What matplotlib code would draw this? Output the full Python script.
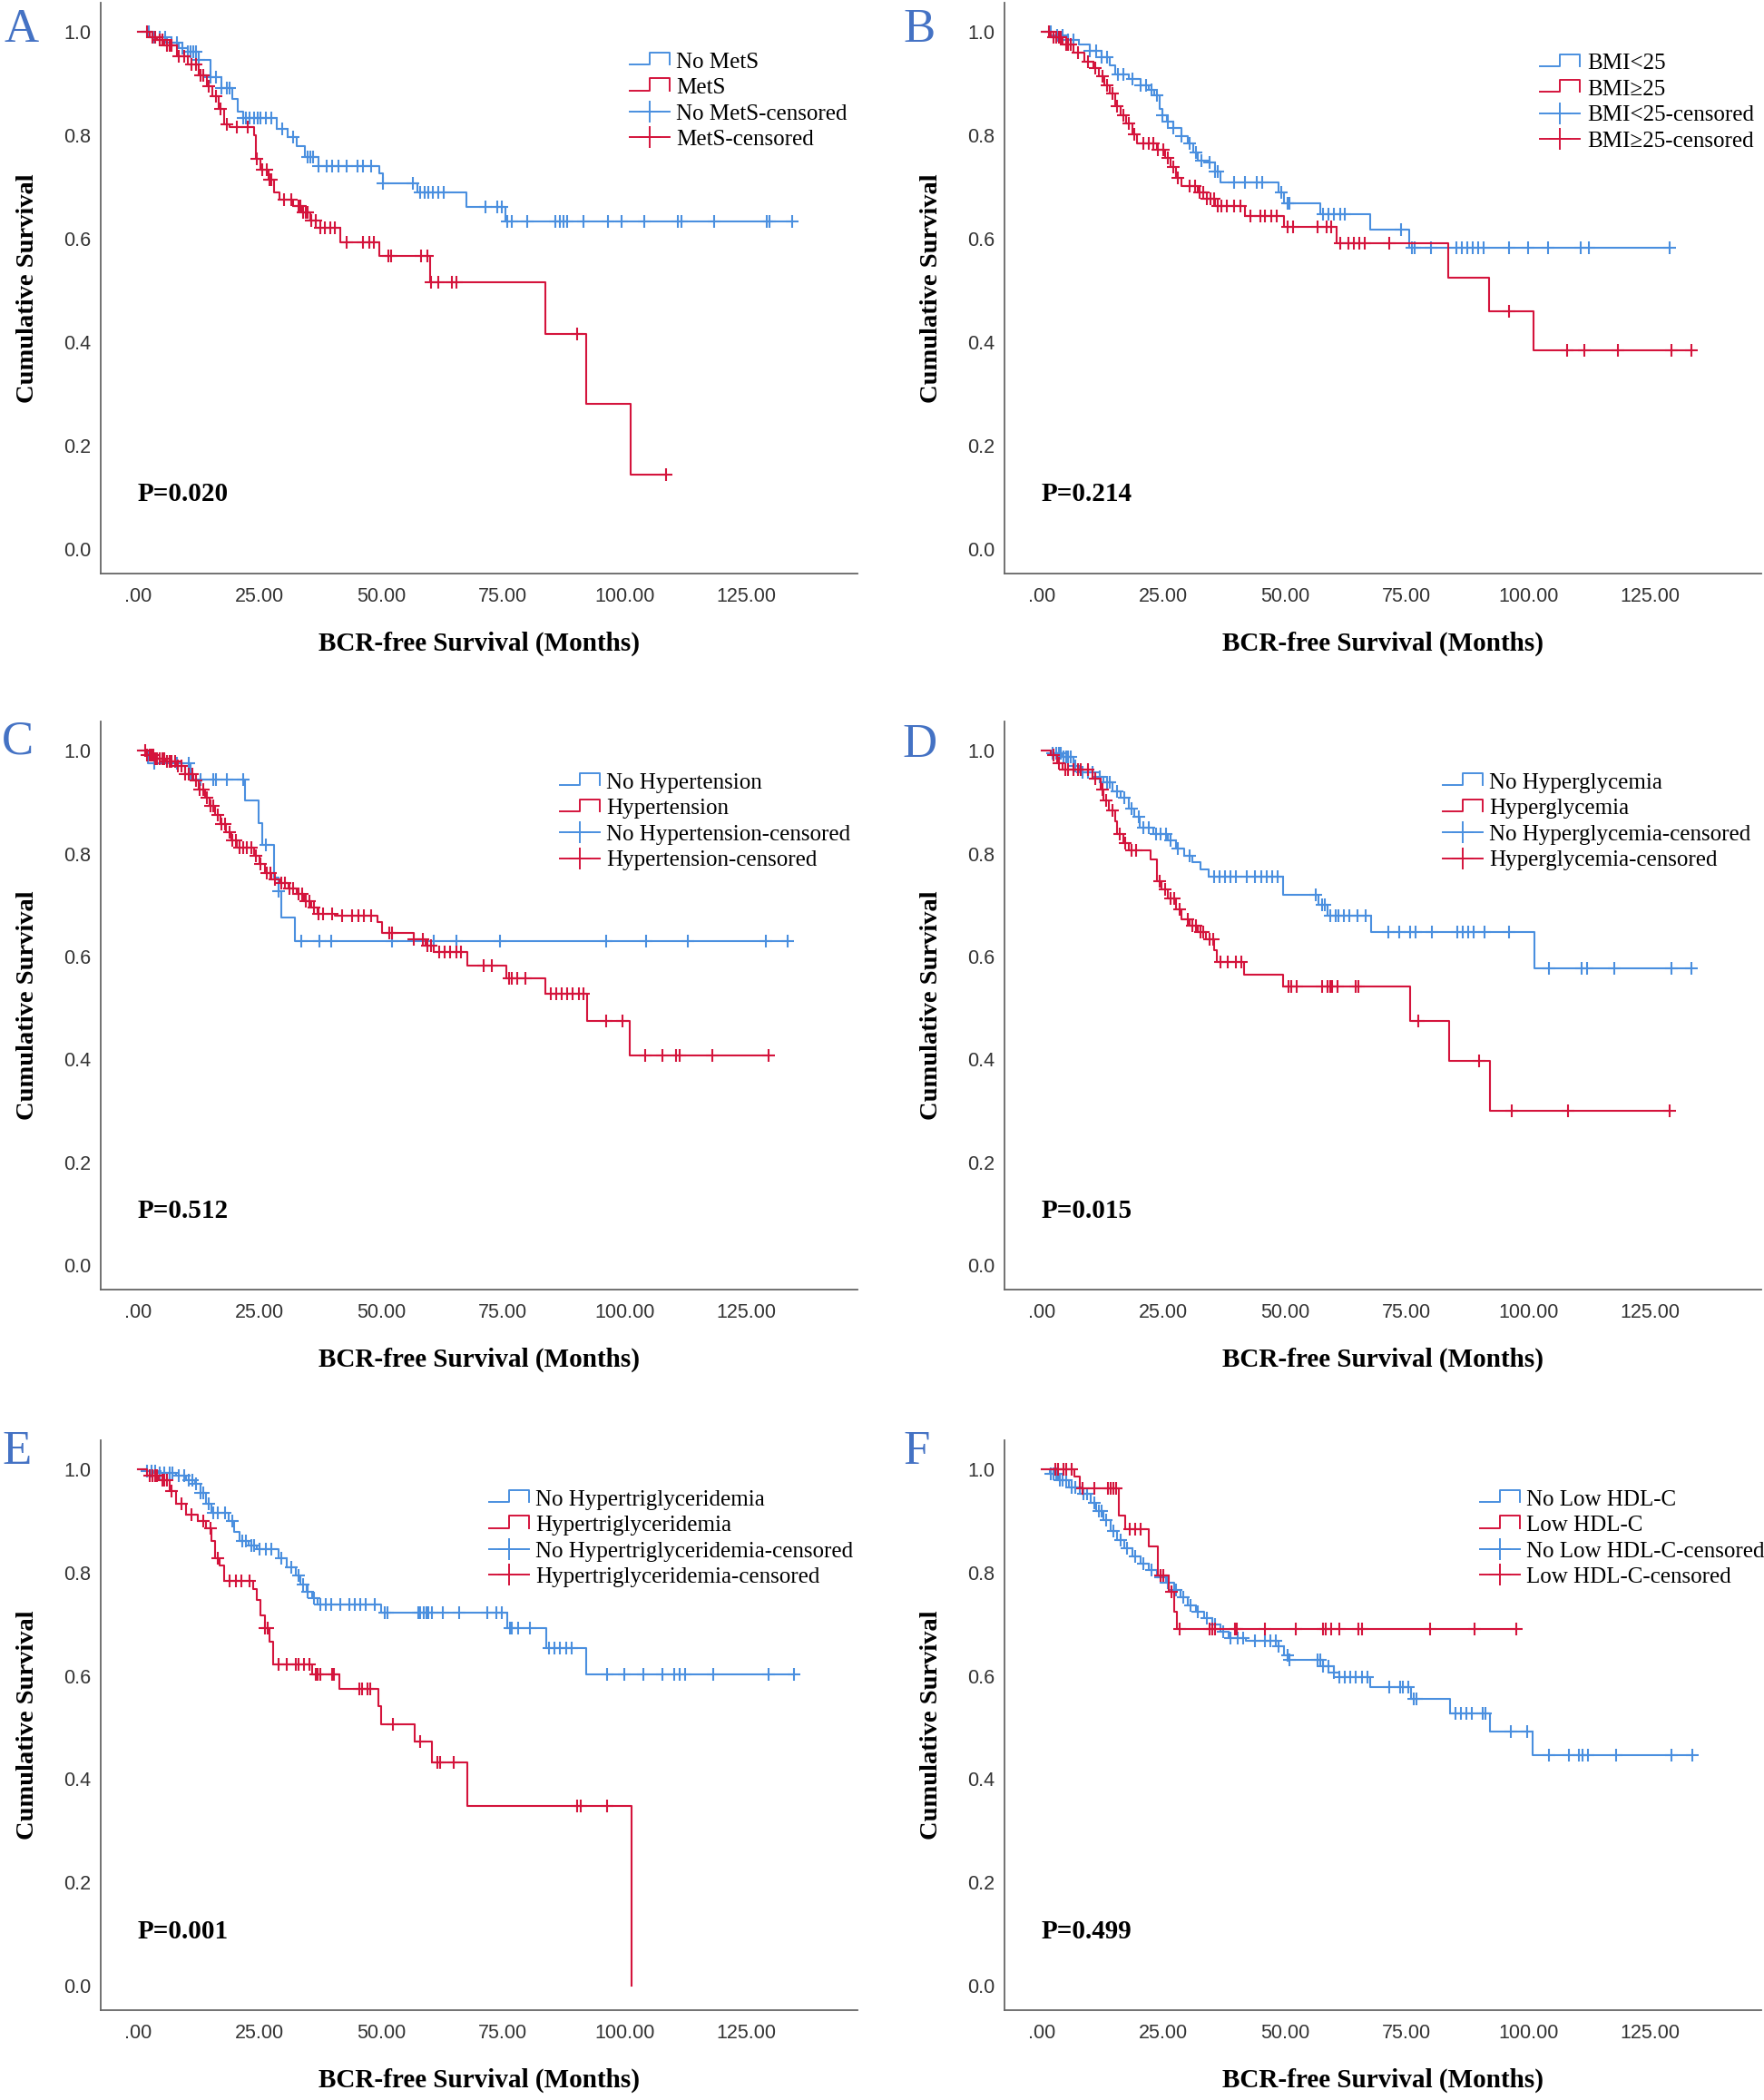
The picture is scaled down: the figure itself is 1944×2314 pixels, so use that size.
import numpy as np
import matplotlib.pyplot as plt
from matplotlib.legend_handler import HandlerBase
from matplotlib.lines import Line2D
from matplotlib.font_manager import FontProperties

# ---- values (months / cumulative survival) ----
x_ticks = [0, 25, 50, 75, 100, 125]
x_ticklabels = ['.00', '25.00', '50.00', '75.00', '100.00', '125.00']
y_ticks = [0.0, 0.2, 0.4, 0.6, 0.8, 1.0]
y_ticklabels = ['0.0', '0.2', '0.4', '0.6', '0.8', '1.0']
panel_letters = ['A', 'B', 'C', 'D', 'E', 'F']
p_values = ['P=0.020', 'P=0.214', 'P=0.512', 'P=0.015', 'P=0.001', 'P=0.499']

# A - MetS
a_labels = ['No MetS', 'MetS']
a_blue_t = [3, 6, 8.5, 10.3, 12.6, 14.9, 17.2, 19.4, 20.6, 21.7, 28.6, 30.9, 32.6, 34.3, 37.2,
            49.7, 50.3, 57.4, 67.5, 75.5]
a_blue_s = [0.99, 0.98, 0.97, 0.963, 0.946, 0.913, 0.892, 0.871, 0.846, 0.834, 0.813, 0.797, 0.78,
            0.759, 0.741, 0.726, 0.707, 0.689, 0.662, 0.633]
a_blue_c = [2.3, 3.4, 4.6, 5.7, 6.9, 8.0, 9.1, 10.3, 10.9, 11.4, 12.0, 12.6, 14.9, 16.0, 17.2, 18.3,
            18.9, 21.7, 22.3, 22.9, 24.0, 24.6, 25.2, 26.3, 27.4, 29.7, 32.0, 34.9, 35.4, 36.0, 37.2,
            38.9, 40.0, 41.2, 42.9, 45.2, 46.3, 48.0, 50.3, 56.6, 58.0, 58.9, 59.7, 60.6, 61.8, 62.9,
            71.5, 73.8, 74.9, 76.0, 76.8, 80.0, 85.8, 86.7, 87.5, 88.3, 91.5, 96.6, 99.5, 104.1,
            110.9, 111.8, 118.4, 129.2, 129.8, 134.4]
a_red_t = [2.5, 4, 5.5, 8, 10.3, 12.6, 14.3, 15.4, 16.6, 17.7, 18.9, 24.0, 24.2, 25.2, 26.9, 28.0,
           29.2, 32.0, 33.7, 35.4, 36.6, 41.7, 49.7, 60.0, 83.8, 92.1, 101.2]
a_red_s = [0.99, 0.985, 0.975, 0.954, 0.938, 0.917, 0.896, 0.876, 0.851, 0.822, 0.816, 0.80, 0.755,
           0.734, 0.714, 0.689, 0.676, 0.664, 0.651, 0.635, 0.622, 0.593, 0.566, 0.516, 0.415,
           0.28, 0.144]
a_red_c = [2, 3, 3.5, 4.5, 5, 6, 6.5, 7, 8.5, 9.5, 11, 12, 13, 13.5, 14.5, 16, 17, 18.3, 20.3, 22.6,
           24.5, 25.5, 26.5, 27, 27.5, 30, 31.5, 33, 33.5, 34, 34.5, 35, 35.7, 36.5, 37.5, 38.5,
           39.5, 40.5, 42.9, 46.3, 47.5, 48.6, 51.5, 52, 58.3, 59.5, 60.3, 61.8, 64.6, 65.4, 90.3,
           108.6]

# B - BMI
b_labels = ['BMI<25', 'BMI\u226525']
b_blue_t = [2.5, 5.5, 7.7, 10, 12.3, 14, 15.1, 18, 20.3, 22, 23.1, 24.3, 24.8, 25.7, 27.1, 28.8,
            30, 31.1, 32.2, 34.5, 35.6, 36.8, 48.7, 49.9, 57.3, 67.5, 75.5]
b_blue_s = [0.993, 0.985, 0.977, 0.964, 0.952, 0.935, 0.918, 0.91, 0.898, 0.889, 0.877, 0.852,
            0.839, 0.827, 0.814, 0.798, 0.785, 0.768, 0.752, 0.748, 0.731, 0.71, 0.689, 0.668,
            0.648, 0.618, 0.583]
b_blue_c = [2, 3.2, 4.3, 5.5, 6.6, 10, 11.2, 12.3, 13.4, 15.7, 16.9, 18.6, 20.3, 21.4, 22.6, 23.7,
            24.8, 26, 27.1, 28.8, 30.5, 31.7, 32.8, 34.5, 35.6, 36.2, 39.6, 41.9, 44.2, 45.3, 49.3,
            50.5, 51, 57.9, 59, 60.1, 61.3, 62.4, 73.8, 76.1, 76.7, 80.1, 85.2, 86.3, 87.5, 88.6,
            89.7, 90.9, 96, 100, 104, 110.8, 112.5, 129]
b_red_t = [2, 4.3, 6.6, 8.9, 10.6, 11.7, 12.9, 14, 15.1, 16.3, 17.4, 18.6, 19.7, 23.7, 25.4, 26.5,
           27.7, 28.8, 32.2, 33.9, 35.6, 41.9, 49.9, 60.7, 83.5, 92.0, 101.1]
b_red_s = [0.99, 0.977, 0.96, 0.943, 0.931, 0.914, 0.898, 0.881, 0.856, 0.839, 0.823, 0.802,
           0.785, 0.773, 0.756, 0.739, 0.718, 0.702, 0.689, 0.677, 0.664, 0.645, 0.623, 0.591,
           0.525, 0.46, 0.385]
b_red_c = [1.5, 2.5, 3, 3.5, 4, 5, 5.5, 6, 7.5, 9.5, 11, 12.5, 13.5, 14.5, 15.5, 16.8, 18, 19, 21,
           22, 23, 24, 25, 26, 27, 28, 30.5, 31.5, 32.5, 33.2, 34, 34.8, 35.5, 36.2, 37, 38, 39.5,
           40.8, 43, 45, 46, 47.2, 48.3, 50.5, 51.7, 56.7, 58.5, 59.6, 61.3, 63, 64.2, 65.3, 66.4,
           71.5, 96, 108, 111.6, 118.4, 129.5, 133.6]

# C - Hypertension
c_labels = ['No Hypertension', 'Hypertension']
c_blue_t = [2.05, 10.8, 22.0, 24.8, 25.6, 28.0, 28.9, 29.5, 32.3]
c_blue_s = [0.976, 0.944, 0.903, 0.859, 0.817, 0.753, 0.727, 0.675, 0.63]
c_blue_c = [3.4, 8, 10.4, 13, 15.5, 16, 18.3, 21.6, 26.3, 28.9, 33.6, 37.3, 39.7, 52.2, 60.8, 65.4,
            74.5, 96.3, 104.4, 113, 129, 133.6]
c_red_t = [1.7, 3.5, 5.7, 8, 9.7, 11.5, 12.6, 13.8, 14.7, 15.8, 17, 18.1, 19.3, 20.4, 23.9, 25,
           26.1, 27.5, 29.2, 31, 32.7, 34.2, 35.6, 36.9, 40.5, 49.3, 50.2, 56.8, 59.1, 60.8, 67.7,
           75.7, 83.7, 92.3, 101.1]
c_red_s = [0.992, 0.985, 0.979, 0.971, 0.954, 0.942, 0.925, 0.908, 0.892, 0.875, 0.858, 0.842,
           0.825, 0.812, 0.796, 0.779, 0.762, 0.75, 0.742, 0.733, 0.721, 0.708, 0.696, 0.683,
           0.679, 0.667, 0.646, 0.633, 0.621, 0.608, 0.583, 0.558, 0.528, 0.475, 0.408]
c_red_c = [1.5, 2.0, 2.4, 2.8, 3.2, 3.6, 4.0, 4.5, 5.0, 5.4, 6.0, 6.5, 7.0, 7.6, 8.3, 9.0, 9.8,
           10.5, 11.3, 12.0, 12.8, 13.5, 14.2, 15.0, 15.6, 16.4, 17.2, 18.0, 18.8, 19.5, 20.2,
           21.0, 21.7, 22.5, 23.3, 24.2, 25.3, 26.5, 27.3, 28.2, 29.5, 30.3, 31.2, 32.0, 33.0,
           33.8, 34.6, 35.3, 36.2, 37.2, 38.0, 40, 42, 44, 45.3, 46.5, 48, 51.6, 52.2, 56.8, 58.5,
           59.6, 60.2, 61.9, 63, 64.2, 65.4, 66.5, 71.1, 72.8, 76.3, 76.9, 78, 79.7, 84.9, 86,
           87.2, 88.3, 89.4, 90.6, 91.5, 96.3, 99.7, 104.3, 107.8, 110.7, 111.3, 118.1, 129.6]

# D - Hyperglycemia
d_labels = ['No Hyperglycemia', 'Hyperglycemia']
d_blue_t = [2, 4.3, 6.6, 7.7, 11.1, 12.8, 14.5, 16.2, 17.9, 19, 20.2, 23, 25.9, 27.6, 29.3, 31,
            32.7, 34.4, 49.7, 57, 58.7, 67.8, 101.2]
d_blue_s = [0.996, 0.988, 0.971, 0.958, 0.95, 0.938, 0.921, 0.909, 0.888, 0.871, 0.85, 0.838,
            0.825, 0.809, 0.796, 0.784, 0.77, 0.755, 0.719, 0.701, 0.68, 0.647, 0.576]
d_blue_c = [2.3, 3, 3.5, 4, 4.5, 5, 5.5, 6, 7, 8.5, 9.5, 10.5, 12, 13.5, 14, 15.5, 17, 18.5, 20, 21,
            22, 23.5, 24.5, 25.5, 26.5, 28, 30.5, 35.5, 36.6, 37.7, 38.8, 40, 42.2, 43.9, 45.1,
            46.2, 47.4, 48.5, 56.4, 57.6, 58.2, 59.3, 60.4, 61, 62.1, 63.3, 65, 66.7, 71.2, 73.5,
            75.7, 76.9, 80.3, 85.4, 86.5, 87.6, 88.8, 91.1, 96.1, 104.2, 110.9, 112.1, 117.7,
            129.5, 133.6]
d_red_t = [2, 3.2, 4.3, 10.5, 12.2, 12.8, 13.9, 15.1, 15.6, 16.8, 17.9, 22.4, 23.8, 24.7, 25.9,
           27.6, 28.7, 30.4, 32.1, 33.8, 35.5, 36.1, 41.7, 49.7, 75.7, 83.7, 92.2]
d_red_s = [0.992, 0.975, 0.963, 0.946, 0.925, 0.904, 0.884, 0.863, 0.838, 0.821, 0.806, 0.788,
           0.746, 0.73, 0.713, 0.692, 0.672, 0.659, 0.647, 0.634, 0.613, 0.589, 0.565, 0.542,
           0.474, 0.397, 0.299]
d_red_c = [2.5, 3.5, 4.8, 5.5, 6.5, 7.5, 8, 9.5, 11, 12.5, 13.2, 14.5, 16, 17.2, 18.5, 19.5, 24.2,
           25.4, 26.5, 27.2, 28.3, 30, 31, 31.7, 32.6, 33.3, 34.5, 35.2, 36.7, 38.3, 40, 41.1,
           50.7, 51.3, 52.4, 57.6, 58.7, 59.3, 59.8, 60.9, 64.6, 65.2, 77.4, 89.9, 96.7, 108.1, 129]

# E - Hypertriglyceridemia
e_labels = ['No Hypertriglyceridemia', 'Hypertriglyceridemia']
e_blue_t = [2, 4.3, 7.8, 10, 11.8, 12.9, 14.1, 15.2, 18.6, 19.8, 20.9, 22.7, 24.4, 28.9, 30.7,
            32.4, 33.5, 34.7, 35.8, 37, 50.1, 75.9, 83.9, 92.2]
e_blue_s = [0.997, 0.993, 0.989, 0.98, 0.972, 0.955, 0.934, 0.917, 0.9, 0.879, 0.862, 0.853,
            0.845, 0.828, 0.811, 0.794, 0.777, 0.764, 0.751, 0.739, 0.722, 0.692, 0.654, 0.603]
e_blue_c = [2, 2.8, 3.5, 4.5, 5.5, 6.5, 7.2, 8.5, 9.5, 10.5, 11.2, 12, 13, 13.5, 14.5, 15.5, 16.5,
            18, 19.5, 21.5, 22.3, 23.3, 24, 25, 26.3, 27.5, 29.5, 31.5, 33, 34, 35, 36.3, 37.5,
            38.7, 39.8, 41.6, 43.5, 44.6, 45.8, 46.9, 48.7, 50.7, 51.3, 57.6, 58.1, 58.7, 59.3,
            59.8, 60.4, 62.7, 66.1, 71.8, 73.6, 74.8, 76.4, 76.9, 78.1, 80.5, 84.5, 85.7, 86.8,
            88, 89.1, 96.5, 99.9, 103.9, 107.9, 110.2, 111.4, 112.5, 118.2, 129.6, 134.8]
e_red_t = [2, 4.3, 6.6, 7.8, 10, 12.4, 14.1, 15.2, 15.8, 16.9, 17.8, 23.8, 24.4, 25.2, 26.1, 27,
           27.8, 35.8, 41.5, 49.5, 50.1, 57, 60.4, 67.8, 101.4]
e_red_s = [0.989, 0.98, 0.959, 0.934, 0.913, 0.9, 0.887, 0.862, 0.828, 0.815, 0.785, 0.768, 0.747,
           0.717, 0.692, 0.666, 0.622, 0.603, 0.575, 0.541, 0.507, 0.473, 0.433, 0.348, 0.0]
e_red_c = [2.5, 3, 3.5, 4, 5, 5.5, 6, 7, 9, 11, 13.5, 15, 16.5, 18.8, 20.1, 21.3, 23, 26.1, 26.7,
           29, 30.7, 32.4, 33, 34.1, 35.3, 36.5, 37, 37.6, 39.9, 40.4, 45.5, 46.1, 47.2, 47.8,
           52.4, 58.1, 61.6, 62.1, 65, 90.2, 91.1, 96.5]

# F - Low HDL-C
f_labels = ['No Low HDL-C', 'Low HDL-C']
f_blue_t = [1.7, 3.4, 5.7, 7.9, 10.2, 11.3, 12.7, 14.2, 15.6, 17, 18.7, 20.4, 22.1, 23.8, 25.5,
            27.2, 28.6, 30, 31.7, 33.4, 35.1, 36.8, 38.5, 42, 48.8, 49.9, 51, 57.8, 60.1, 61.2,
            67.5, 76, 83.9, 92.2, 100.9]
f_blue_s = [0.992, 0.979, 0.966, 0.953, 0.936, 0.919, 0.903, 0.881, 0.864, 0.847, 0.831, 0.818,
            0.805, 0.791, 0.78, 0.767, 0.752, 0.737, 0.725, 0.712, 0.699, 0.686, 0.674, 0.669,
            0.657, 0.64, 0.631, 0.619, 0.606, 0.597, 0.579, 0.555, 0.527, 0.492, 0.447]
f_blue_c = [2.0, 2.5, 3.0, 3.8, 4.4, 5.0, 6.2, 7.0, 8.6, 9.4, 10.8, 11.8, 12.4, 13.3, 14.8, 16.2,
            17.6, 19.3, 21.0, 22.6, 24.4, 25.9, 27.7, 29.2, 30.6, 32.2, 33.9, 35.6, 37.3, 38.8,
            40.3, 41.4, 43.8, 45.9, 47.1, 48.2, 48.8, 50.5, 51, 56.7, 57.3, 57.8, 59, 60.1, 61.2,
            62.4, 63.5, 64.6, 65.8, 66.9, 71.4, 73.7, 74.3, 75.4, 76.5, 77.1, 85, 86.2, 87.3,
            88.4, 90.7, 91.3, 96.4, 99.8, 104.3, 108.3, 110.5, 111.1, 112.2, 118.1, 129.5, 133.8]
f_red_t = [6.8, 7.9, 15.9, 17.2, 22.1, 24, 26.1, 27.2, 27.8]
f_red_s = [0.987, 0.964, 0.911, 0.884, 0.852, 0.794, 0.763, 0.725, 0.691]
f_red_c = [2.8, 3.4, 4.5, 5.1, 6.2, 8.5, 10.8, 13.6, 14.2, 14.7, 15.3, 18.1, 19.3, 20.4, 24.5,
           25.1, 26.8, 28.3, 34.6, 35.1, 35.7, 39.7, 40.2, 45.9, 52.2, 57.8, 58.4, 59.5, 61.2,
           65.2, 65.8, 79.9, 89, 97.5]

BLUE = '#4a8fdf'
RED = '#d4143c'
SERIF = ['Liberation Serif', 'DejaVu Serif']
SANS = ['Liberation Sans', 'DejaVu Sans']

W, H = 1944, 2314
fig = plt.figure(figsize=(W / 100, H / 100), dpi=100)
fig.patch.set_facecolor('white')

col_left = [111, 1107]
ax_w = 834
rows = [(3, 632), (795, 1421), (1587, 2215)]
letter_pos = [(4, 9), (995, 9), (2, 793), (994, 797), (2, 1576), (995, 1576)]
legend_anchor = [(0.699, 0.914), (0.708, 0.911), (0.607, 0.910),
                 (0.579, 0.910), (0.513, 0.914), (0.628, 0.914)]

panels = [
    (a_labels, a_blue_t, a_blue_s, a_blue_c, a_red_t, a_red_s, a_red_c),
    (b_labels, b_blue_t, b_blue_s, b_blue_c, b_red_t, b_red_s, b_red_c),
    (c_labels, c_blue_t, c_blue_s, c_blue_c, c_red_t, c_red_s, c_red_c),
    (d_labels, d_blue_t, d_blue_s, d_blue_c, d_red_t, d_red_s, d_red_c),
    (e_labels, e_blue_t, e_blue_s, e_blue_c, e_red_t, e_red_s, e_red_c),
    (f_labels, f_blue_t, f_blue_s, f_blue_c, f_red_t, f_red_s, f_red_c),
]


class StepHandler(HandlerBase):
    # the little step glyph SPSS puts in front of survival lines
    def create_artists(self, legend, orig_handle, xdescent, ydescent,
                       width, height, fontsize, trans):
        x0, y0 = -xdescent, -ydescent
        lo, hi = y0 + 0.2 * height, y0 + 0.95 * height
        xs = [x0, x0 + 0.5 * width, x0 + 0.5 * width, x0 + width, x0 + width]
        ys = [lo, lo, hi, hi, lo]
        ln = Line2D(xs, ys, color=orig_handle.get_color(), lw=orig_handle.get_linewidth())
        ln.set_transform(trans)
        return [ln]


def km_curve(ax, t, s, c, color):
    t = np.asarray(t, float)
    s = np.asarray(s, float)
    c = np.asarray(c, float)
    end = max(t.max(), c.max())
    xs = np.concatenate([[0.0], t, [end]])
    ys = np.concatenate([[1.0], s, [s[-1]]])
    ax.step(xs, ys, where='post', color=color, lw=1.5)
    idx = np.searchsorted(t, c, side='right') - 1
    cy = np.where(idx >= 0, s[np.clip(idx, 0, None)], 1.0)
    ax.plot(c, cy, ls='none', marker='+', ms=10, mew=1.5, color=color)


for i, (labels, bt, bs, bc, rt, rs, rc) in enumerate(panels):
    top, bottom = rows[i // 2]
    left = col_left[i % 2]
    ax = fig.add_axes([left / W, 1 - bottom / H, ax_w / W, (bottom - top) / H])

    km_curve(ax, bt, bs, bc, BLUE)
    km_curve(ax, rt, rs, rc, RED)

    ax.set_xlim(-7.6, 147.9)
    ax.set_ylim(-0.048, 1.057)
    for side in ['top', 'right']:
        ax.spines[side].set_visible(False)
    for side in ['left', 'bottom']:
        ax.spines[side].set_color('#666666')
        ax.spines[side].set_linewidth(1.3)

    ax.set_xticks(x_ticks)
    ax.set_xticklabels(x_ticklabels, family=SANS, fontsize=15.5, color='#333333')
    ax.set_yticks(y_ticks)
    ax.set_yticklabels(y_ticklabels, family=SANS, fontsize=15.5, color='#333333')
    ax.tick_params(axis='x', length=0, pad=10.5)
    ax.tick_params(axis='y', length=0, pad=8)

    ax.set_xlabel('BCR-free Survival (Months)', family=SERIF, fontweight='bold',
                  fontsize=21, va='center')
    ax.xaxis.set_label_coords(0.5, -0.123)
    ax.set_ylabel('Cumulative Survival', family=SERIF, fontweight='bold',
                  fontsize=20.5, va='center')
    ax.yaxis.set_label_coords(-0.096, 0.5)

    ax.text(0, 0.105, p_values[i], family=SERIF, fontweight='bold', fontsize=21,
            ha='left', va='center')

    h1 = Line2D([], [], color=BLUE, lw=1.4)
    h2 = Line2D([], [], color=RED, lw=1.4)
    h3 = Line2D([], [], color=BLUE, lw=1.4, marker='+', ms=17, mew=1.4)
    h4 = Line2D([], [], color=RED, lw=1.4, marker='+', ms=17, mew=1.4)
    ax.legend([h1, h2, h3, h4],
              [labels[0], labels[1], labels[0] + '-censored', labels[1] + '-censored'],
              handler_map={h1: StepHandler(), h2: StepHandler()},
              loc='upper left', bbox_to_anchor=legend_anchor[i], frameon=False,
              borderpad=0, borderaxespad=0, handlelength=1.75, handletextpad=0.3,
              labelspacing=0.24, numpoints=1,
              prop=FontProperties(family=SERIF, size=18))

    lx, ly = letter_pos[i]
    fig.text(lx / W, 1 - ly / H, panel_letters[i], family=SERIF, fontsize=38,
             color='#4472c4', ha='left', va='top')

fig.savefig('out.png', dpi=100, facecolor='white')
